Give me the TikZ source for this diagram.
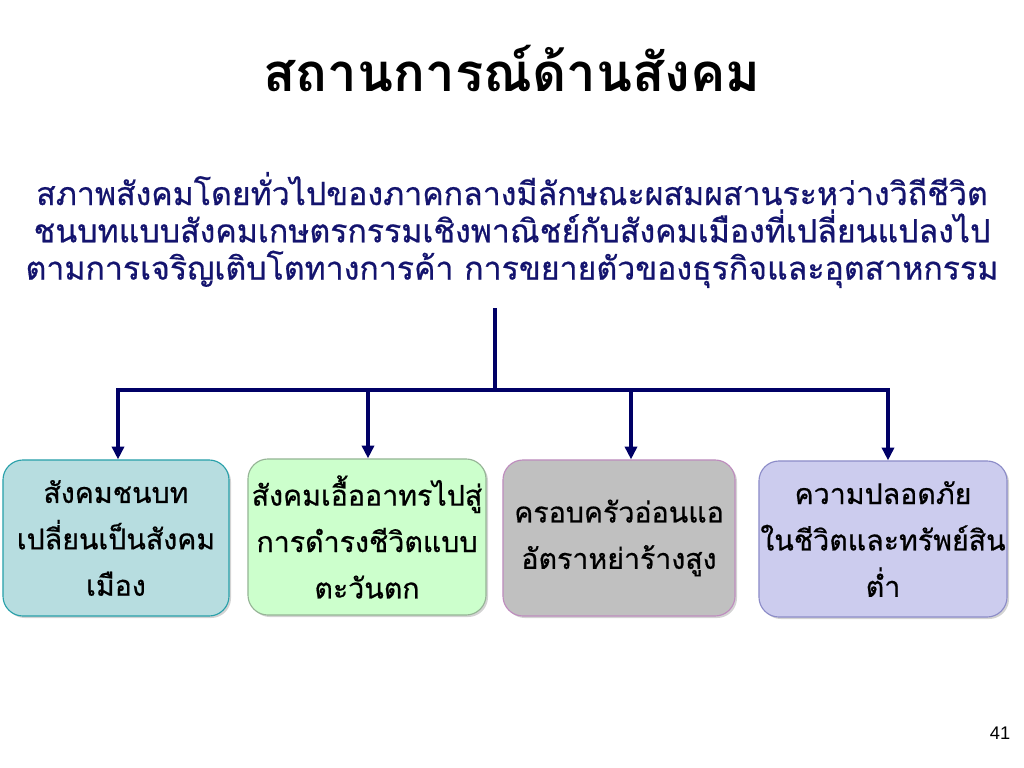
\documentclass[tikz,border=0pt]{standalone}
\usepackage{fontspec}
\setmainfont{Liberation Sans}
\newfontfamily\thaifont[Script=Thai]{Loma}
\newfontfamily\thaiheavy[Script=Thai, FakeBold=0.6]{Loma}
\usetikzlibrary{arrows.meta, positioning, shadows}
\definecolor{navy}{RGB}{0,0,102}
\definecolor{introcol}{RGB}{20,20,110}

\begin{document}
\begin{tikzpicture}[x=0.025cm, y=-0.025cm, >={Triangle[length=0.32cm, width=0.3cm]},
          link/.style={navy, line width=0.1cm},
          topic/.style={draw, rounded corners=0.5cm, minimum width=#1, minimum height=3.9cm, inner sep=1pt,
                        align=center, font=\thaiheavy\fontsize{20.3}{33}\selectfont, line width=0.8pt,
                        drop shadow={shadow xshift=0.05cm, shadow yshift=-0.05cm, opacity=0.35}}
        ]
        \useasboundingbox (0,0) rectangle (1024,768);
        \node[font=\thaifont\bfseries\fontsize{37.5}{44}\selectfont] (title) at (512,68) {สถานการณ์ด้านสังคม};
        \node[introcol, align=center, font=\thaiheavy\fontsize{22.8}{26.5}\selectfont] (intro) at (512,230)
          {สภาพสังคมโดยทั่วไปของภาคกลางมีลักษณะผสมผสานระหว่างวิถีชีวิต\\
           ชนบทแบบสังคมเกษตรกรรมเชิงพาณิชย์กับสังคมเมืองที่เปลี่ยนแปลงไป\\
           ตามการเจริญเติบโตทางการค้า การขยายตัวของธุรกิจและอุตสาหกรรม};

        \node[topic=5.65cm, fill={rgb,255:red,183;green,221;blue,224}, draw={rgb,255:red,40;green,160;blue,170}] (rural) at (116,538)
          {สังคมชนบท\\เปลี่ยนเป็นสังคม\\เมือง};
        \node[topic=5.95cm, fill={rgb,255:red,204;green,255;blue,204}, draw={rgb,255:red,150;green,180;blue,150}] (western) at (367,537)
          {สังคมเอื้ออาทรไปสู่\\การดำรงชีวิตแบบ\\ตะวันตก};
        \node[topic=5.8cm, fill={rgb,255:red,192;green,192;blue,192}, draw={rgb,255:red,190;green,140;blue,190}] (family) at (619,538)
          {ครอบครัวอ่อนแอ\\อัตราหย่าร้างสูง};
        \node[topic=6.2cm, fill={rgb,255:red,204;green,204;blue,238}, draw={rgb,255:red,140;green,140;blue,200}] (safety) at (883,539)
          {ความปลอดภัย\\ในชีวิตและทรัพย์สิน\\ต่ำ};

        \node[font=\fontsize{13}{15}\selectfont] (page) at (1000,733) {41};

        \coordinate (stem) at (495,308);
        \coordinate (split) at (495,390);
        \coordinate (bar1) at (118,390);
        \coordinate (bar2) at (368,390);
        \coordinate (bar3) at (631,390);
        \coordinate (bar4) at (888,390);

        \draw[link] (stem) -- (split);
        \draw[link] ([xshift=-0.05cm]bar1) -- ([xshift=0.05cm]bar4);
        \draw[link, ->] (bar1) -- (bar1 |- rural.north);
        \draw[link, ->] (bar2) -- (bar2 |- western.north);
        \draw[link, ->] (bar3) -- (bar3 |- family.north);
        \draw[link, ->] (bar4) -- (bar4 |- safety.north);
      \end{tikzpicture}
\end{document}
